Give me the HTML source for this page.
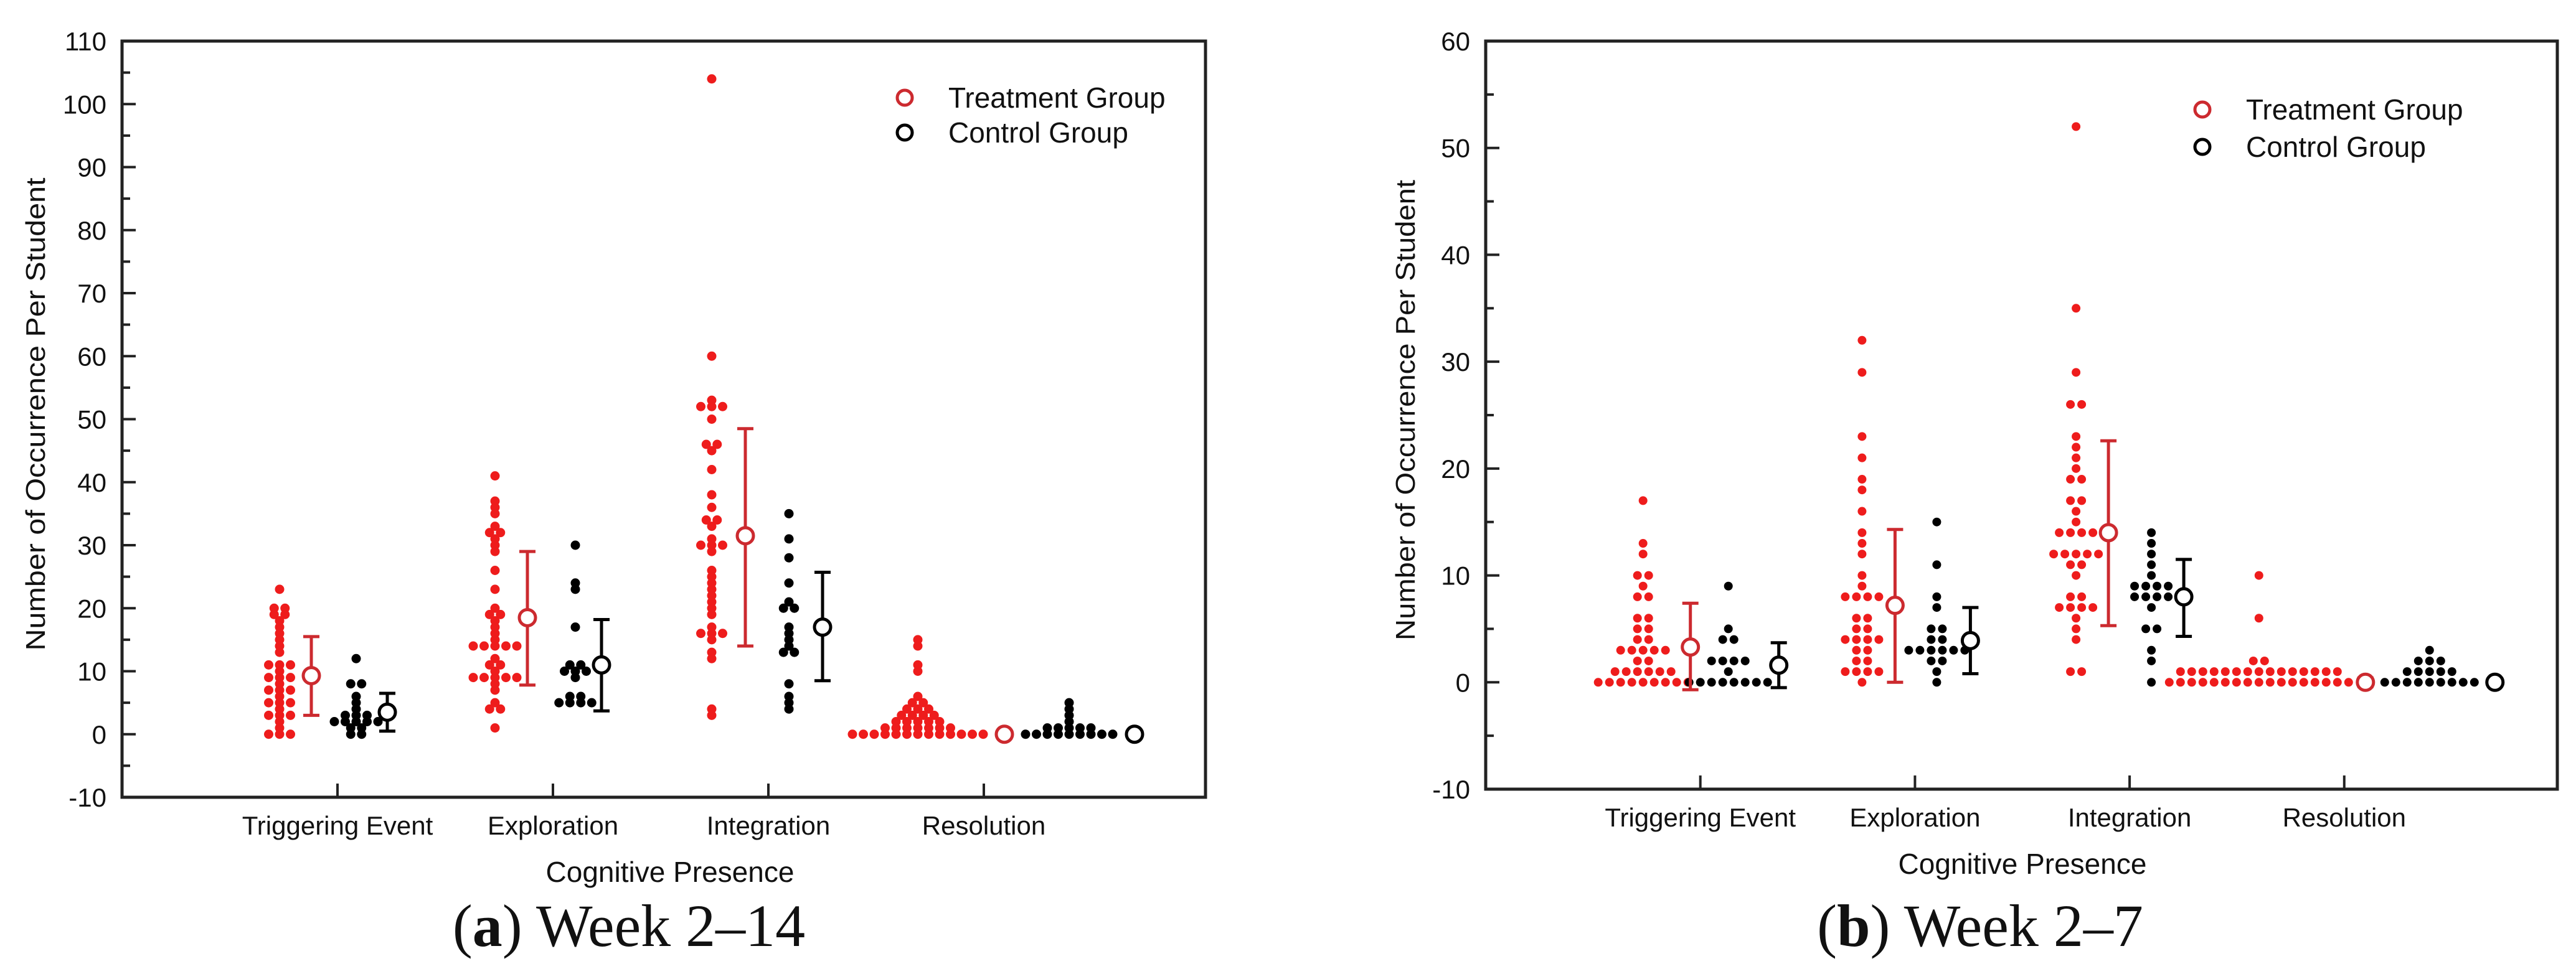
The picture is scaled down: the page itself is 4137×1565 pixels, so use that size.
<!DOCTYPE html>
<html><head><meta charset="utf-8"><style>
html,body{margin:0;padding:0;background:#fff;}
svg{display:block;}
text{font-family:"Liberation Sans",Arial,sans-serif;fill:#111;}
</style></head><body>
<svg id="fig" width="4137" height="1565" viewBox="0 0 4137 1565" xmlns="http://www.w3.org/2000/svg"></svg>
<script>
const categories = ["Triggering Event","Exploration","Integration","Resolution"];
// Panel (a) Week 2-14
const aTreat = [
 [23,20,20,19,19,18,17,16,15,14,13,11,11,11,10,9,9,9,8,7,7,7,6,5,5,5,4,3,3,3,2,1,0,0,0],
 [41,37,36,35,33,32,32,31,30,29,26,23,20,19,19,18,17,16,15,14,14,14,14,14,12,11,11,10,9,9,9,9,9,8,7,5,4,4,1],
 [104,60,53,52,52,52,50,46,46,45,42,38,36,34,34,33,31,30,30,30,29,26,25,24,23,22,21,20,19,17,16,16,16,15,13,12,4,3],
 [15,14,11,10,6,5,5,4,4,4,3,3,3,3,2,2,2,2,2,1,1,1,1,1,1,1,0,0,0,0,0,0,0,0,0,0,0,0,0]
];
const aCtrl = [
 [12,8,8,6,5,4,3,3,3,2,2,2,2,2,1,1,0,0],
 [30,24,23,17,11,11,10,10,10,9,6,6,5,5,5,5],
 [35,31,28,24,21,20,20,17,16,15,14,13,13,8,6,5,4],
 [5,4,3,2,1,1,1,1,1,0,0,0,0,0,0,0,0,0]
];
const aTreatMean = [9.3,18.5,31.5,0];
const aTreatLo = [3,7.8,14,-0.6];
const aTreatHi = [15.5,29,48.5,0.6];
const aCtrlMean = [3.5,11,17,0];
const aCtrlLo = [0.5,3.7,8.5,-0.5];
const aCtrlHi = [6.5,18.2,25.7,0.5];
const aTicks = [-10,0,10,20,30,40,50,60,70,80,90,100,110];
// Panel (b) Week 2-7
const bTreat = [
 [17,13,12,10,10,9,8,8,6,6,5,5,4,4,3,3,3,3,3,2,2,1,1,1,1,1,1,0,0,0,0,0,0,0,0,0],
 [32,29,23,21,19,18,16,14,13,12,10,9,8,8,8,8,6,6,5,5,4,4,4,4,3,3,2,2,1,1,1,1,0],
 [52,35,29,26,26,23,22,21,20,19,19,17,17,16,15,14,14,14,14,12,12,12,12,12,11,11,10,8,8,7,7,7,7,6,5,4,1,1],
 [10,6,2,2,1,1,1,1,1,1,1,1,1,1,1,1,1,1,1,0,0,0,0,0,0,0,0,0,0,0,0,0,0,0,0,0]
];
const bCtrl = [
 [9,5,4,4,2,2,2,2,1,0,0,0,0,0,0,0,0],
 [15,11,8,7,5,5,4,4,3,3,3,3,3,3,2,2,1,0],
 [14,13,12,11,10,9,9,9,9,8,8,8,8,7,5,5,3,2,0],
 [3,2,2,2,1,1,1,1,1,0,0,0,0,0,0,0,0,0]
];
const bTreatMean = [3.3,7.2,14,0];
const bTreatLo = [-0.7,0,5.3,-0.4];
const bTreatHi = [7.4,14.3,22.6,0.4];
const bCtrlMean = [1.6,3.9,8,0];
const bCtrlLo = [-0.5,0.8,4.3,-0.3];
const bCtrlHi = [3.7,7,11.5,0.3];
const bTicks = [-10,0,10,20,30,40,50,60];

const NS = "http://www.w3.org/2000/svg";
const svg = document.getElementById('fig');
const RED = "#ee1c1c", DRED = "#cc2a2f";
function mk(tag, attrs, parent){const e=document.createElementNS(NS,tag);for(const k in attrs)e.setAttribute(k,attrs[k]);(parent||svg).appendChild(e);return e;}

function panel(P){
  const g = mk('g',{});
  
  
  const y = v => P.top + (P.ymax - v) / (P.ymax - P.ymin) * (P.bottom - P.top);
  const x = i => P.left + (i + 1) * P.step;
  const fr = mk('rect',{x:P.left,y:P.top,width:P.right-P.left,height:P.bottom-P.top,fill:'none',stroke:'#222','stroke-width':5},g);
  
  
  P.ticks.forEach((t,k)=>{
    const tk = mk('line',{x1:P.left,x2:P.left+22,y1:y(t),y2:y(t),stroke:'#222','stroke-width':4},g);
    
    
    if(k<P.ticks.length-1){
      const mt=(t+P.ticks[k+1])/2;
      const mn = mk('line',{x1:P.left,x2:P.left+13,y1:y(mt),y2:y(mt),stroke:'#222','stroke-width':4},g);
      
      
    }
    const lb = mk('text',{x:P.left-25,y:y(t)+15,'text-anchor':'end','font-size':42},g);
    lb.textContent = t;
    
    
  });
  const yt = mk('text',{x:0,y:0,'text-anchor':'middle','font-size':44,textLength:P.ytLen,lengthAdjust:'spacingAndGlyphs',transform:`translate(${P.ytX},${(P.top+P.bottom)/2 - 8}) rotate(-90)`},g);
  yt.textContent = "Number of Occurrence Per Student";
  
  
  categories.forEach((c,i)=>{
    const tk = mk('line',{x1:x(i),x2:x(i),y1:P.bottom,y2:P.bottom-22,stroke:'#222','stroke-width':4},g);
    
    
    const lb = mk('text',{x:x(i),y:P.bottom+60,'text-anchor':'middle','font-size':42},g);
    lb.textContent = c;
    
    
  });
  const xt = mk('text',{x:P.xtX,y:P.bottom+136,'text-anchor':'middle','font-size':46},g);
  xt.textContent = "Cognitive Presence";
  
  
  function swarm(vals, cx, color, nm){
    const counts = {};
    vals.forEach(v=>{counts[v]=(counts[v]||0)+1;});
    const seen = {};
    vals.forEach(v=>{
      const n = counts[v]; const j = seen[v]||0; seen[v]=j+1;
      const d = mk('circle',{cx:cx+(j-(n-1)/2)*P.sp, cy:y(v), r:P.r, fill:color},g);
      
      
    });
  }
  function meanBar(m, lo, hi, cx, color, nm){
    const l = mk('line',{x1:cx,x2:cx,y1:y(hi),y2:y(lo),stroke:color,'stroke-width':5},g);
    
    
    [lo,hi].forEach(v=>{
      const c = mk('line',{x1:cx-13,x2:cx+13,y1:y(v),y2:y(v),stroke:color,'stroke-width':5},g);
      
      
    });
    const o = mk('circle',{cx:cx,cy:y(m),r:13,fill:'#fff',stroke:color,'stroke-width':5},g);
    
    
  }
  categories.forEach((c,i)=>{
    const off = P.offs[i];
    swarm(P.treat[i], x(i)+off[0], RED, 'treatment-dot');
    swarm(P.ctrl[i], x(i)+off[2], '#000', 'control-dot');
    meanBar(P.tm[i], P.tlo[i], P.thi[i], x(i)+off[1], DRED, 'treatment');
    meanBar(P.cm[i], P.clo[i], P.chi[i], x(i)+off[3], '#000', 'control');
  });
  const lg = mk('g',{},g);
  
  
  [["Treatment Group",DRED,P.legY[0],'legend-entry-treatment'],["Control Group","#000",P.legY[1],'legend-entry-control']].forEach(e=>{
    const c = mk('circle',{cx:P.legX,cy:e[2],r:12,fill:'none',stroke:e[1],'stroke-width':5},lg);
    
    
    const t = mk('text',{x:P.legX+70,y:e[2]+16,'font-size':46},lg);
    t.textContent = e[0];
    
    
  });
  const cap = mk('text',{x:P.capX,y:1520,'text-anchor':'middle','font-size':96,style:'font-family:"Liberation Serif",serif'},g);
  cap.innerHTML = `(<tspan font-weight="bold">${P.capL}</tspan>) ${P.capT}`;
  
  
}

panel({name:'panel-a-week-2-14',left:196,right:1936,top:66,bottom:1281,ymin:-10,ymax:110,step:346,ticks:aTicks,
  ytX:72,ytLen:760,xtX:1076,sp:17.5,r:7.5,
  offs:[[-93,-42,30,80],[-93,-41,36,78],[-91,-37,33,87],[-106,33,137,242]],
  treat:aTreat,ctrl:aCtrl,tm:aTreatMean,tlo:aTreatLo,thi:aTreatHi,cm:aCtrlMean,clo:aCtrlLo,chi:aCtrlHi,
  legX:1453,legY:[157,213],capX:1010,capL:'a',capT:'Week 2–14'});
panel({name:'panel-b-week-2-7',left:2386,right:4107,top:66,bottom:1268,ymin:-10,ymax:60,step:344.7,ticks:bTicks,
  ytX:2272,ytLen:740,xtX:3248,sp:18,r:7,
  offs:[[-92,-16,45,126],[-85,-32,35,89],[-86,-34,35,87],[-137,34,137,242]],
  treat:bTreat,ctrl:bCtrl,tm:bTreatMean,tlo:bTreatLo,thi:bTreatHi,cm:bCtrlMean,clo:bCtrlLo,chi:bCtrlHi,
  legX:3537,legY:[176,236],capX:3180,capL:'b',capT:'Week 2–7'});
</script>
</body></html>
